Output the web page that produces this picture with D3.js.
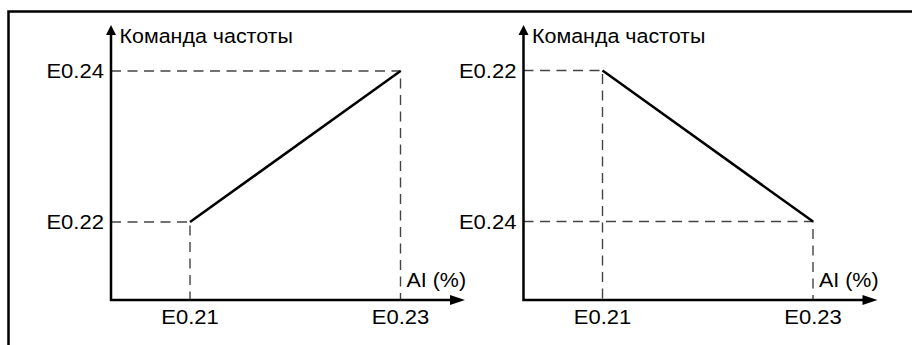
<!DOCTYPE html>
<html>
<head>
<meta charset="utf-8">
<script src="https://cdn.jsdelivr.net/npm/d3@7"></script>
<style>
  body { margin: 0; background: #fff; }
  text { font-family: "Liberation Sans", Arial, sans-serif; fill: #000; }
</style>
</head>
<body>
<script>
const width = 912;
const height = 345;

// data
const xLabels = ["E0.21", "E0.23"];
const yOrderLeft = ["E0.24", "E0.22"];   // top to bottom
const yOrderRight = ["E0.22", "E0.24"];  // top to bottom
const lineStart = { x: "E0.21", y: "E0.22" };
const lineEnd = { x: "E0.23", y: "E0.24" };
const yTitle = "Команда частоты";
const xTitle = "AI (%)";

const panels = [
  { ox: 111, yOrder: yOrderLeft, yRange: [71, 222] },
  { ox: 523.5, yOrder: yOrderRight, yRange: [70.5, 221.5] }
];

const axisY = 300;
const axisLen = 354;
const fontSize = 19.5;

const svg = d3.select("body").append("svg")
  .attr("width", width).attr("height", height)
  .attr("xmlns", "http://www.w3.org/2000/svg");

// frame (top + left edge)
svg.append("path")
  .attr("d", `M8.5,${height} L8.5,11.5 L${width},11.5`)
  .attr("fill", "none").attr("stroke", "#000").attr("stroke-width", 2.5);

const lineFunction = d3.line().x(d => d[0]).y(d => d[1]);

// text slightly stretched sideways like the original
function label(g, tx, ty, str, anchor, sx) {
  return g.append("text")
    .attr("transform", `translate(${tx},${ty}) scale(${sx},1)`)
    .attr("text-anchor", anchor)
    .attr("font-size", fontSize)
    .text(str);
}

panels.forEach(p => {
  const g = svg.append("g").attr("transform", `translate(${p.ox},0)`);
  const x = d3.scalePoint().domain(xLabels).range([79, 289.5]);
  const y = d3.scalePoint().domain(p.yOrder).range(p.yRange);

  const pts = [lineStart, lineEnd];

  // dashed guides
  pts.forEach(d => {
    g.append("path")
      .attr("d", lineFunction([[0, y(d.y)], [x(d.x), y(d.y)], [x(d.x), axisY]]))
      .attr("fill", "none")
      .attr("stroke", "#444")
      .attr("stroke-width", 1.4)
      .attr("stroke-dasharray", "10,6.5");
  });

  // axes
  g.append("path")
    .attr("d", lineFunction([[0, 32], [0, axisY], [axisLen - 12, axisY]]))
    .attr("fill", "none").attr("stroke", "#000").attr("stroke-width", 2.5);
  g.append("path")
    .attr("d", "M0,25 L-5,35 L5,35 Z").attr("fill", "#000");
  g.append("path")
    .attr("d", `M${axisLen},${axisY} L${axisLen - 15},${axisY - 5} L${axisLen - 15},${axisY + 5} Z`)
    .attr("fill", "#000");

  // data line
  g.append("path")
    .attr("d", lineFunction(pts.map(d => [x(d.x), y(d.y)])))
    .attr("fill", "none").attr("stroke", "#000").attr("stroke-width", 2.5);

  // tick labels
  xLabels.forEach(d => label(g, x(d), 323.5, d, "middle", 1.13));
  p.yOrder.forEach(d => label(g, -7, y(d) + 7, d, "end", 1.13));

  // titles
  label(g, 8.5, 43, yTitle, "start", 1.1);
  label(g, x(lineEnd.x) + 6, 287, xTitle, "start", 1.1);
});
</script>
</body>
</html>
